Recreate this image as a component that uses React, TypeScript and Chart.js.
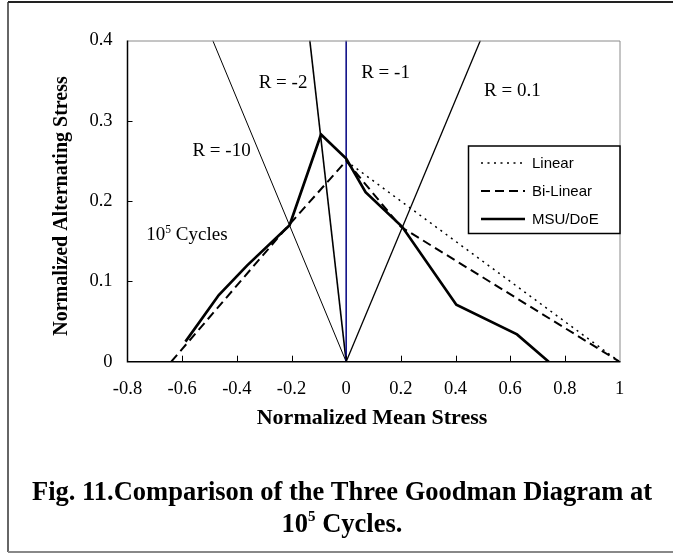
import React, { useEffect, useRef } from "react";
import { Chart, registerables } from "chart.js";

Chart.register(...registerables);

const SERIF = "'Liberation Serif', 'Times New Roman', serif";
const SANS = "'Liberation Sans', Arial, sans-serif";

// ---- data ----
const xTickValues = [-0.8, -0.6, -0.4, -0.2, 0, 0.2, 0.4, 0.6, 0.8, 1];
const xTickLabels = ["-0.8", "-0.6", "-0.4", "-0.2", "0", "0.2", "0.4", "0.6", "0.8", "1"];
const yTickValues = [0, 0.1, 0.2, 0.3, 0.4];
const yTickLabels = ["0", "0.1", "0.2", "0.3", "0.4"];

const linearX = [0, 1];
const linearY = [0.25, 0];

const biLinearX = [-0.64, -0.21, 0, 0.2, 1];
const biLinearY = [0, 0.17, 0.25, 0.168, 0];

const msuX = [-0.588, -0.466, -0.362, -0.207, -0.092, 0, 0.071, 0.205, 0.403, 0.625, 0.741];
const msuY = [0.025, 0.083, 0.12, 0.17, 0.283, 0.253, 0.211, 0.168, 0.071, 0.034, 0];

const rMinus10X = [0, -0.488];
const rMinus10Y = [0, 0.4];
const rMinus2X = [0, -0.133];
const rMinus2Y = [0, 0.4];
const rMinus1X = [0, 0];
const rMinus1Y = [0, 0.4];
const r01X = [0, 0.491];
const r01Y = [0, 0.4];

const annotationTexts = ["R = -2", "R = -1", "R = 0.1", "R = -10"];
const annotationX = [-0.231, 0.144, 0.608, -0.456];
const annotationY = [0.347, 0.36, 0.337, 0.262];

const cyclesX = -0.731;
const cyclesY = 0.159;

const xTitle = "Normalized Mean Stress";
const yTitle = "Normalized Alternating Stress";
const captionLine1 = "Fig. 11.Comparison of the Three Goodman Diagram at";

const toPts = (xs: number[], ys: number[]) => xs.map((x, i) => ({ x, y: ys[i] }));

const legendItems = [
  { label: "Linear", dash: [2, 4.5], width: 1.5 },
  { label: "Bi-Linear", dash: [9, 5], width: 2 },
  { label: "MSU/DoE", dash: [] as number[], width: 2.5 },
];

function drawSup(
  ctx: CanvasRenderingContext2D,
  base: string,
  sup: string,
  rest: string,
  x: number,
  y: number,
  size: number,
  supSize: number,
  weight: string,
  align: "left" | "center"
) {
  ctx.font = `${weight} ${size}px ${SERIF}`;
  const w1 = ctx.measureText(base).width;
  const w3 = ctx.measureText(rest).width;
  ctx.font = `${weight} ${supSize}px ${SERIF}`;
  const w2 = ctx.measureText(sup).width;
  const total = w1 + w2 + w3;
  const sx = align === "center" ? x - total / 2 : x;
  ctx.textAlign = "left";
  ctx.textBaseline = "alphabetic";
  ctx.font = `${weight} ${size}px ${SERIF}`;
  ctx.fillText(base, sx, y);
  ctx.font = `${weight} ${supSize}px ${SERIF}`;
  ctx.fillText(sup, sx + w1, y - size * 0.38);
  ctx.font = `${weight} ${size}px ${SERIF}`;
  ctx.fillText(rest, sx + w1 + w2, y);
}

const decorPlugin = {
  id: "decor",
  afterDraw(chart: any) {
    const ctx: CanvasRenderingContext2D = chart.ctx;
    const { left, right, top, bottom } = chart.chartArea;
    const xs = chart.scales.x;
    const ys = chart.scales.y;
    ctx.save();

    // plot frame: top/right grey, left/bottom black
    ctx.strokeStyle = "#8a8a8a";
    ctx.lineWidth = 1;
    ctx.beginPath();
    ctx.moveTo(left, top + 0.5);
    ctx.lineTo(right + 0.5, top + 0.5);
    ctx.lineTo(right + 0.5, bottom);
    ctx.stroke();
    ctx.strokeStyle = "#000";
    ctx.lineWidth = 1.5;
    ctx.beginPath();
    ctx.moveTo(left, top);
    ctx.lineTo(left, bottom);
    ctx.lineTo(right + 1, bottom);
    ctx.stroke();

    // inward ticks
    ctx.lineWidth = 1;
    ctx.beginPath();
    xTickValues.forEach((v) => {
      const px = Math.round(xs.getPixelForValue(v)) + 0.5;
      if (v === xTickValues[0] || v === xTickValues[xTickValues.length - 1]) return;
      ctx.moveTo(px, bottom);
      ctx.lineTo(px, bottom - 6);
    });
    yTickValues.forEach((v) => {
      const py = Math.round(ys.getPixelForValue(v)) + 0.5;
      if (v === yTickValues[0] || v === yTickValues[yTickValues.length - 1]) return;
      ctx.moveTo(left, py);
      ctx.lineTo(left + 5, py);
    });
    ctx.stroke();

    // annotations
    ctx.fillStyle = "#000";
    ctx.font = `19px ${SERIF}`;
    ctx.textAlign = "center";
    ctx.textBaseline = "middle";
    annotationTexts.forEach((t, i) => {
      ctx.fillText(t, xs.getPixelForValue(annotationX[i]), ys.getPixelForValue(annotationY[i]));
    });
    drawSup(ctx, "10", "5", " Cycles", xs.getPixelForValue(cyclesX), ys.getPixelForValue(cyclesY) + 6, 19, 11.5, "", "left");

    // legend
    const lx0 = 468.5, ly0 = 146, lx1 = right + 0.5, ly1 = 233.5;
    ctx.fillStyle = "#fff";
    ctx.fillRect(lx0, ly0, lx1 - lx0, ly1 - ly0);
    ctx.strokeStyle = "#000";
    ctx.lineWidth = 1.5;
    ctx.strokeRect(lx0, ly0, lx1 - lx0, ly1 - ly0);
    const rowY = [163, 191, 219];
    legendItems.forEach((it, i) => {
      ctx.setLineDash(it.dash);
      ctx.lineWidth = it.width;
      ctx.beginPath();
      ctx.moveTo(481, rowY[i]);
      ctx.lineTo(525, rowY[i]);
      ctx.stroke();
      ctx.setLineDash([]);
      ctx.fillStyle = "#000";
      ctx.font = `15px ${SANS}`;
      ctx.textAlign = "left";
      ctx.textBaseline = "middle";
      ctx.fillText(it.label, 532, rowY[i] + 1);
    });

    // axis titles
    ctx.fillStyle = "#000";
    ctx.font = `bold 22px ${SERIF}`;
    ctx.textAlign = "center";
    ctx.textBaseline = "middle";
    ctx.fillText(xTitle, 372, 418);
    ctx.font = `bold 20px ${SERIF}`;
    ctx.save();
    ctx.translate(62, 206);
    ctx.rotate(-Math.PI / 2);
    ctx.fillText(yTitle, 0, 0);
    ctx.restore();

    // caption
    ctx.font = `bold 26.5px ${SERIF}`;
    ctx.textAlign = "center";
    ctx.textBaseline = "alphabetic";
    ctx.fillText(captionLine1, 342, 500);
    drawSup(ctx, "10", "5", " Cycles.", 342, 531.5, 26.5, 15, "bold", "center");

    // outer frame
    ctx.strokeStyle = "#222";
    ctx.lineWidth = 2;
    ctx.beginPath();
    ctx.moveTo(8, 2);
    ctx.lineTo(673, 2);
    ctx.stroke();
    ctx.lineWidth = 1.5;
    ctx.strokeStyle = "#333";
    ctx.beginPath();
    ctx.moveTo(8, 2);
    ctx.lineTo(8, 552);
    ctx.stroke();
    ctx.strokeStyle = "#888";
    ctx.lineWidth = 2;
    ctx.beginPath();
    ctx.moveTo(8, 552);
    ctx.lineTo(673, 552);
    ctx.stroke();

    ctx.restore();
  },
};

export default function App() {
  const ref = useRef<HTMLCanvasElement>(null);
  useEffect(() => {
    const canvas = ref.current!;
    const line = (label: string, data: any[], color: string, width: number, dash: number[] = []) => ({
      label,
      data,
      showLine: true,
      borderColor: color,
      backgroundColor: color,
      borderWidth: width,
      borderDash: dash,
      pointRadius: 0,
      pointHoverRadius: 0,
      tension: 0,
      fill: false,
    });
    const chart = new Chart(canvas, {
      type: "scatter",
      data: {
        datasets: [
          line("MSU/DoE", toPts(msuX, msuY), "#000", 2.7),
          line("Bi-Linear", toPts(biLinearX, biLinearY), "#000", 2, [9, 5]),
          line("Linear", toPts(linearX, linearY), "#000", 1.5, [2, 4.5]),
          line("R = -1", toPts(rMinus1X, rMinus1Y), "#000080", 1.5),
          line("R = -2", toPts(rMinus2X, rMinus2Y), "#000", 1.6),
          line("R = 0.1", toPts(r01X, r01Y), "#000", 1.3),
          line("R = -10", toPts(rMinus10X, rMinus10Y), "#000", 1),
        ],
      },
      options: {
        responsive: false,
        animation: false,
        devicePixelRatio: 1,
        events: [],
        layout: { padding: { left: 0, right: 53.5, top: 40.5, bottom: 0 } },
        plugins: { legend: { display: false }, tooltip: { enabled: false }, title: { display: false } },
        scales: {
          x: {
            type: "linear",
            min: -0.8,
            max: 1,
            afterBuildTicks: (s: any) => {
              s.ticks = xTickValues.map((v) => ({ value: v }));
            },
            afterFit: (s: any) => {
              s.height = 192.3;
            },
            grid: { display: false, drawTicks: false },
            border: { display: false },
            ticks: {
              color: "#000",
              font: { family: SERIF, size: 18.5 },
              padding: 16.5,
              maxRotation: 0,
              autoSkip: false,
              callback: (_v: any, i: number) => xTickLabels[i],
            },
          },
          y: {
            type: "linear",
            min: 0,
            max: 0.4,
            afterBuildTicks: (s: any) => {
              s.ticks = yTickValues.map((v) => ({ value: v }));
            },
            afterFit: (s: any) => {
              s.width = 127.5;
            },
            grid: { display: false, drawTicks: false },
            border: { display: false },
            ticks: {
              color: "#000",
              font: { family: SERIF, size: 18.5 },
              padding: 15,
              autoSkip: false,
              callback: (_v: any, i: number) => yTickLabels[i],
            },
          },
        },
      },
      plugins: [decorPlugin],
    });
    return () => chart.destroy();
  }, []);
  return (
    <div style={{ position: "absolute", left: 0, top: 0, width: 673, height: 554, background: "#fff" }}>
      <canvas ref={ref} width={673} height={554} style={{ display: "block" }} />
    </div>
  );
}
